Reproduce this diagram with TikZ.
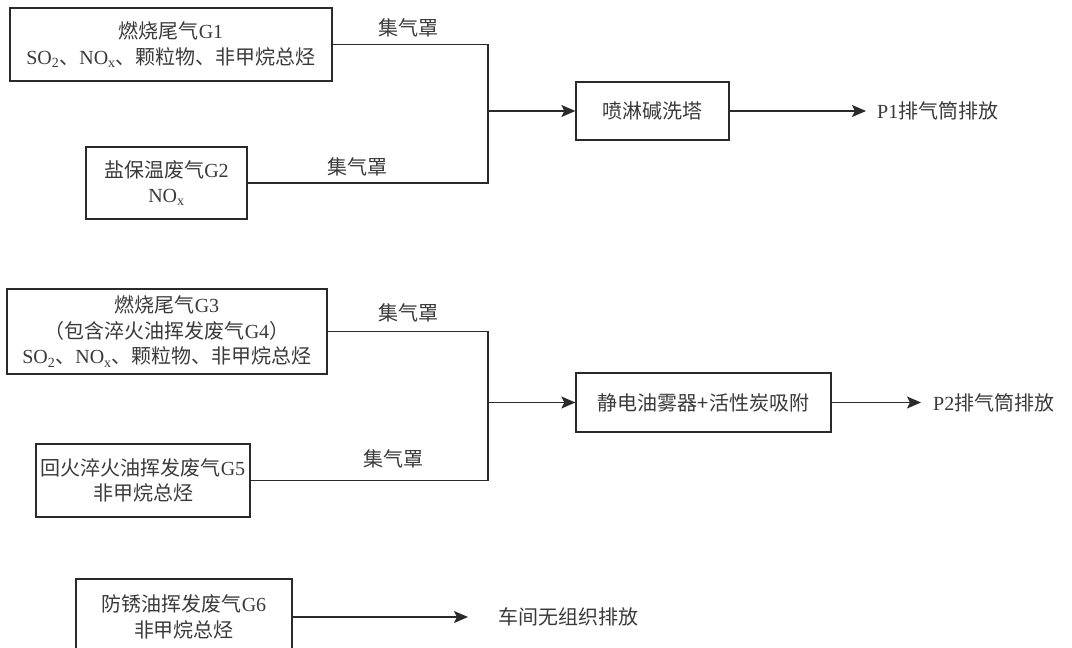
\documentclass[tikz,border=0pt]{standalone}
\usepackage{fontspec}
\setmainfont{Liberation Serif}
\newfontfamily\cjk{Noto Sans CJK SC}
\usetikzlibrary{arrows.meta}
\newcommand{\zh}[1]{{\cjk #1}}
\definecolor{linec}{HTML}{2A2A2A}
\definecolor{textc}{HTML}{3A3A3A}
\begin{document}
\begin{tikzpicture}[x=1pt,y=-1pt,
  box/.style={draw=linec, line width=1.3pt, align=center, inner sep=0pt, text=textc,
              font=\fontsize{20}{25.5}\selectfont},
  lbl/.style={text=textc, inner sep=0pt, font=\fontsize{20}{25.5}\selectfont},
  conn/.style={draw=linec, line width=1.3pt},
  arr/.style={conn, -{Stealth[length=14pt,width=12pt,inset=3pt]}}]
\clip (0,0) rectangle (1072,648);
\useasboundingbox (0,0) rectangle (1072,648);

% group 1
\node[box, minimum width=322pt, minimum height=73pt] (G1) at (171,44.5)
  {\zh{燃烧尾气}G1\\SO\textsubscript{2}\zh{、}NO\textsubscript{x}\zh{、颗粒物、非甲烷总烃}};
\node[box, minimum width=161pt, minimum height=72pt] (G2) at (166.5,183)
  {\zh{盐保温废气}G2\\NO\textsubscript{x}};
\node[box, minimum width=153pt, minimum height=58pt] (P) at (652.5,111) {\zh{喷淋碱洗塔}};
\coordinate (j1) at (488,111);
\draw[conn] (G1.east) -| (j1);
\draw[conn] (G2.east) -| (j1);
\draw[arr] (j1) -- (P.west);
\node[lbl] (L1) at (408,28) {\zh{集气罩}};
\node[lbl] (L2) at (357,167) {\zh{集气罩}};
\coordinate (e1) at (866,111);
\draw[arr] (P.east) -- (e1);
\node[lbl, anchor=west] (O1) at (877,111) {P1\zh{排气筒排放}};

% group 2
\node[box, minimum width=320pt, minimum height=85pt] (G3) at (167,331.5)
  {\zh{燃烧尾气}G3\\\zh{（包含淬火油挥发废气}G4\zh{）}\\SO\textsubscript{2}\zh{、}NO\textsubscript{x}\zh{、颗粒物、非甲烷总烃}};
\node[box, minimum width=214pt, minimum height=73pt] (G5) at (143,480.5)
  {\zh{回火淬火油挥发废气}G5\\\zh{非甲烷总烃}};
\node[box, minimum width=255pt, minimum height=59pt] (J) at (703.5,402.5) {\zh{静电油雾器+活性炭吸附}};
\coordinate (j2) at (488,402.5);
\draw[conn] (G3.east) -| (j2);
\draw[conn] (G5.east) -| (j2);
\draw[arr] (j2) -- (J.west);
\node[lbl] (L3) at (408,313) {\zh{集气罩}};
\node[lbl] (L4) at (393,459) {\zh{集气罩}};
\coordinate (e2) at (921,402.5);
\draw[arr] (J.east) -- (e2);
\node[lbl, anchor=west] (O2) at (933,402.5) {P2\zh{排气筒排放}};

% group 3
\node[box, minimum width=216pt, minimum height=76pt] (G6) at (184,617)
  {\zh{防锈油挥发废气}G6\\\zh{非甲烷总烃}};
\coordinate (e3) at (468,617);
\draw[arr] (G6.east) -- (e3);
\node[lbl, anchor=west] (O3) at (498,617) {\zh{车间无组织排放}};
\end{tikzpicture}
\end{document}
